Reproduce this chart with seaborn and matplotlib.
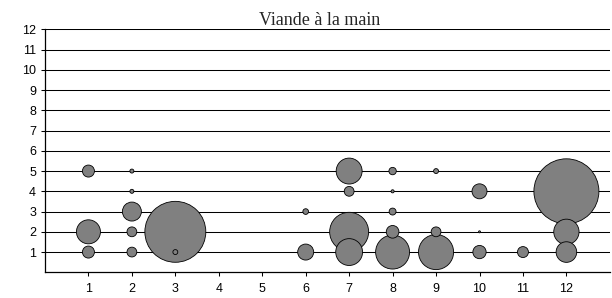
import numpy as np
import pandas as pd
import matplotlib
matplotlib.use('Agg')
import matplotlib.pyplot as plt
import seaborn as sns

# bubble chart: month (x) vs level (y), bubble area = count
mois = [1, 1, 1, 2, 2, 2, 2, 2, 3, 3, 6, 6, 7, 7, 7, 7, 8, 8, 8, 8, 8, 9, 9, 9, 10, 10, 10, 11, 12, 12, 12]
niveau = [5, 2, 1, 5, 4, 3, 2, 1, 2, 1, 3, 1, 5, 4, 2, 1, 5, 4, 3, 2, 1, 5, 2, 1, 4, 2, 1, 1, 4, 2, 1]
effectif = [9, 36, 9, 1, 1, 22.5, 6, 6, 232, 1.5, 2, 16, 42, 6, 95, 45, 3.4, 0.6, 3, 10, 72, 1.5, 6, 77, 14, 0.25, 11, 7.5, 264, 40, 26.5]
x_ticks = list(range(1, 13))
y_ticks = list(range(1, 13))
titre = 'Viande à la main'

sns.set_style('ticks')
plt.rcParams['font.family'] = ['Liberation Sans', 'DejaVu Sans']

df = pd.DataFrame({'mois': mois, 'niveau': niveau, 'effectif': effectif})
df = df.sort_values('effectif', ascending=False)  # small bubbles on top

fig = plt.figure(figsize=(6.12, 2.98), dpi=100)
ax = fig.add_axes([0.0735, 0.0862, 0.923, 0.8154])

for y in y_ticks:
    ax.axhline(y, color='black', linewidth=0.75, zorder=0)

vmax = max(effectif)
sns.scatterplot(data=df, x='mois', y='niveau', size='effectif', sizes=(0, 2190),
                size_norm=(0, vmax), color='#808080', edgecolor='black',
                linewidth=0.6, alpha=1, legend=False, ax=ax, zorder=3)

ax.set_xlim(0, 13)
ax.set_ylim(0, 12)
ax.set_xticks(x_ticks)
ax.set_yticks(y_ticks)
ax.set_xticklabels([str(v) for v in x_ticks])
ax.set_yticklabels([str(v) for v in y_ticks])
ax.tick_params(axis='both', labelsize=9, length=3, width=0.75, color='black', labelcolor='black')
ax.tick_params(axis='x', pad=5)
ax.set_xlabel('')
ax.set_ylabel('')
for side in ['top', 'right']:
    ax.spines[side].set_visible(False)
for side in ['left', 'bottom']:
    ax.spines[side].set_linewidth(0.9)
    ax.spines[side].set_color('black')

fig.text(319.5 / 612, 1 - 25 / 298, titre, ha='center', va='baseline',
         fontsize=13, family=['Liberation Serif', 'DejaVu Serif'])

fig.savefig('out.png', dpi=100)
plt.close(fig)
